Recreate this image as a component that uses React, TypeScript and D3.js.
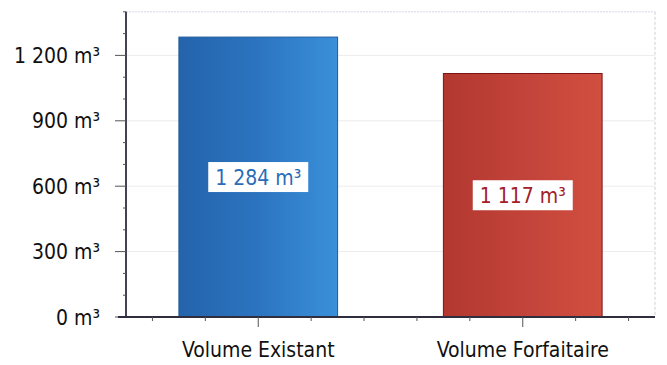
import React from "react";
import * as d3 from "d3";

const categories = ["Volume Existant", "Volume Forfaitaire"];
const values = [1284, 1117];
const valueLabels = ["1 284 m³", "1 117 m³"];
const yTickValues = [0, 300, 600, 900, 1200];
const yTickLabels = ["0 m³", "300 m³", "600 m³", "900 m³", "1 200 m³"];

const W = 667;
const H = 365;
const left = 126;
const right = 655;
const top = 11.8;
const bottom = 317;
const FONT = "'DejaVu Sans Condensed', 'DejaVu Sans', sans-serif";

const fills = [
  { id: "gBlue", from: "#2464ab", mid: "#2c74c0", to: "#3a90da", stroke: "#1f5a9c", text: "#2a6cb8" },
  { id: "gRed", from: "#b2382f", mid: "#c2433a", to: "#d14f3f", stroke: "#7c1414", text: "#a3202a" },
];

export default function App() {
  const y = d3.scaleLinear().domain([0, 1400]).range([bottom, top]);
  const x = d3
    .scaleBand<string>()
    .domain(categories)
    .range([left, right])
    .paddingInner(0.4)
    .paddingOuter(0.2);
  const step = x.step();
  const minorY = d3.range(0, 1401, 100);
  const xTicks: { pos: number; major: boolean }[] = [];
  categories.forEach((_, i) => {
    [0.1, 0.3, 0.5, 0.7, 0.9].forEach((f) => {
      xTicks.push({ pos: left + (i + f) * step, major: f === 0.5 });
    });
  });

  return (
    <svg width={W} height={H} style={{ position: "absolute", left: 0, top: 0, background: "#fff" }}>
      <defs>
        {fills.map((f) => (
          <linearGradient key={f.id} id={f.id} x1="0" x2="1" y1="0" y2="0">
            <stop offset="0" stopColor={f.from} />
            <stop offset="0.5" stopColor={f.mid} />
            <stop offset="1" stopColor={f.to} />
          </linearGradient>
        ))}
      </defs>
      {/* grid */}
      {yTickValues.slice(1).map((v) => (
        <line key={v} x1={left} x2={right} y1={y(v)} y2={y(v)} stroke="#ececec" strokeWidth={1} />
      ))}
      <line x1={left} x2={right} y1={y(1400)} y2={y(1400)} stroke="#d6d6e4" strokeWidth={1} strokeDasharray="2 1" />
      <line x1={right} x2={right} y1={y(1400)} y2={bottom} stroke="#d0d0d0" strokeWidth={1} strokeDasharray="3 2" />

      {/* bars */}
      {categories.map((c, i) => {
        const bx = x(c)!;
        const bw = x.bandwidth();
        const by = y(values[i]);
        const cx = bx + bw / 2;
        const cy = (by + y(0)) / 2;
        const boxW = 100;
        const boxH = 30;
        return (
          <g key={c}>
            <rect x={bx} y={by} width={bw} height={y(0) - by} fill={`url(#${fills[i].id})`} stroke={fills[i].stroke} strokeWidth={1} />
            <rect x={cx - boxW / 2} y={cy - boxH / 2} width={boxW} height={boxH} fill="#fff" />
            <text x={cx} y={cy + 7.5} textAnchor="middle" fontFamily={FONT} fontSize={21} fill={fills[i].text}>
              {valueLabels[i]}
            </text>
          </g>
        );
      })}

      {/* y axis */}
      <line x1={left} x2={left} y1={top} y2={bottom} stroke="#2e2e3e" strokeWidth={1.8} />
      {minorY.map((v) => (
        <line key={v} x1={v % 300 === 0 ? left - 11 : left - 3} x2={left} y1={y(v)} y2={y(v)} stroke="#555" strokeWidth={1} />
      ))}
      {yTickValues.map((v, i) => (
        <text key={v} x={100} y={y(v) + 7.5} textAnchor="end" fontFamily={FONT} fontSize={21} fill="#111">
          {yTickLabels[i]}
        </text>
      ))}

      {/* x axis */}
      <line x1={left - 8} x2={right} y1={bottom} y2={bottom} stroke="#2e2e3e" strokeWidth={1.8} />
      {xTicks.map((t, i) => (
        <line key={i} x1={t.pos} x2={t.pos} y1={bottom} y2={bottom + (t.major ? 10 : 4)} stroke="#555" strokeWidth={1} />
      ))}
      {categories.map((c) => (
        <text key={c} x={x(c)! + x.bandwidth() / 2} y={357} textAnchor="middle" fontFamily={FONT} fontSize={21} fill="#111">
          {c}
        </text>
      ))}
    </svg>
  );
}
